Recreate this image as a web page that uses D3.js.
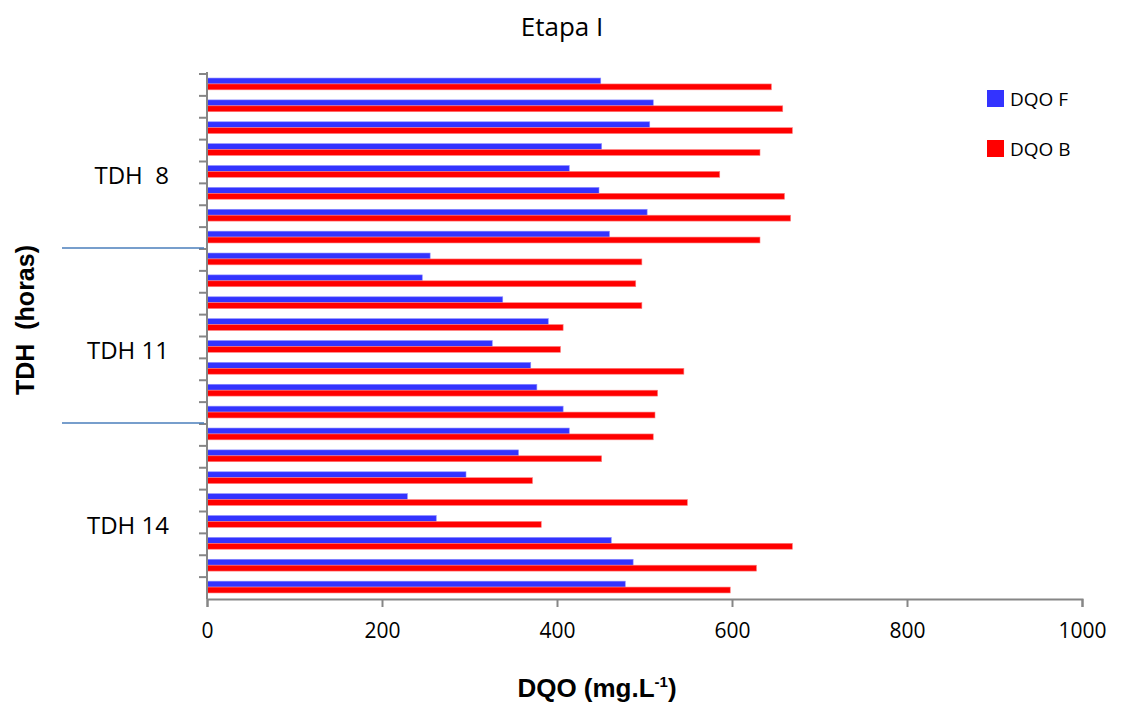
<!DOCTYPE html>
<html>
<head>
<meta charset="utf-8">
<script src="https://cdn.jsdelivr.net/npm/d3@7"></script>
<style>
  body { margin: 0; background: #fff; }
  text { font-family: "Open Sans", sans-serif; white-space: pre; }
</style>
</head>
<body>
<script>
// Etapa I - DQO por TDH
var w = 1122;
var h = 706;

// categories, top to bottom (8 samples per TDH)
var categorias = ["8-1", "8-2", "8-3", "8-4", "8-5", "8-6", "8-7", "8-8",
  "11-1", "11-2", "11-3", "11-4", "11-5", "11-6", "11-7", "11-8",
  "14-1", "14-2", "14-3", "14-4", "14-5", "14-6", "14-7", "14-8"];

var grupos = ["TDH  8", "TDH 11", "TDH 14"];

var series = ["DQO F", "DQO B"];

var dqoF = [450, 510, 506, 451, 414, 448, 503, 460,
  255, 246, 338, 390, 326, 370, 377, 407,
  414, 356, 296, 229, 262, 462, 487, 478];

var dqoB = [645, 658, 669, 632, 586, 660, 667, 632,
  497, 490, 497, 407, 404, 545, 515, 512,
  510, 451, 372, 549, 382, 669, 628, 598];

var xTicks = [0, 200, 400, 600, 800, 1000];

var cores = ["#3333ff", "#ff0000"];

var margin = {top: 74, right: 40, bottom: 107, left: 207};

var svg = d3.select("body")
  .append("svg")
  .attr("width", w)
  .attr("height", h);

var x = d3.scaleLinear()
  .domain([0, 1000])
  .range([margin.left, 1082]);

var y = d3.scaleBand()
  .domain(categorias)
  .range([margin.top, h - margin.bottom])
  .paddingInner(0.46)
  .paddingOuter(0.23);

var ySub = d3.scaleBand()
  .domain(series)
  .range([0, y.bandwidth()]);

var dados = categorias.map(function(c, i) {
  return {cat: c, valores: [dqoF[i], dqoB[i]]};
});

// title
svg.append("text")
  .attr("x", 562)
  .attr("y", 36)
  .attr("text-anchor", "middle")
  .style("font-size", "26px")
  .text("Etapa I");

// bars
var linhas = svg.selectAll("g.cat")
  .data(dados)
  .enter()
  .append("g")
  .attr("class", "cat")
  .attr("transform", function(d) { return "translate(0," + (y(d.cat) - 1) + ")"; });

linhas.selectAll("rect")
  .data(function(d) {
    return d.valores.map(function(v, j) { return {serie: series[j], valor: v, j: j}; });
  })
  .enter()
  .append("rect")
  .attr("x", x(0))
  .attr("y", function(d) { return ySub(d.serie); })
  .attr("width", function(d) { return x(d.valor) - x(0); })
  .attr("height", ySub.bandwidth())
  .attr("fill", function(d) { return cores[d.j]; })
  .attr("stroke", function(d) { return d.j == 0 ? "#8c8cff" : "#ff8080"; })
  .attr("stroke-width", 0.6);

// x axis
var xAxis = d3.axisBottom(x)
  .tickValues(xTicks)
  .tickSize(8)
  .tickPadding(16)
  .tickFormat(d3.format("d"));

var gx = svg.append("g")
  .attr("transform", "translate(0," + (h - margin.bottom) + ")")
  .call(xAxis);
gx.select(".domain").attr("stroke", "#868686").attr("stroke-width", 2);
gx.selectAll(".tick line").attr("stroke", "#868686").attr("stroke-width", 2);
gx.selectAll(".tick text")
  .style("font-family", "Open Sans, sans-serif")
  .style("font-size", "21px")
  .attr("fill", "#000");

// y axis: line and ticks at category boundaries
var step = y.step();
var y0 = y.range()[0];
var limites = d3.range(categorias.length + 1).map(function(i) { return y0 + i * step; });

svg.append("line")
  .attr("x1", x(0)).attr("x2", x(0))
  .attr("y1", y0 - 2).attr("y2", h - margin.bottom)
  .attr("stroke", "#868686")
  .attr("stroke-width", 2);

svg.selectAll("line.ytick")
  .data(limites.slice(0, categorias.length))
  .enter()
  .append("line")
  .attr("class", "ytick")
  .attr("x1", x(0) - 8).attr("x2", x(0))
  .attr("y1", function(d) { return d; })
  .attr("y2", function(d) { return d; })
  .attr("stroke", "#868686")
  .attr("stroke-width", 2);

// group separators
var porGrupo = categorias.length / grupos.length;
svg.selectAll("line.sep")
  .data([1, 2])
  .enter()
  .append("line")
  .attr("class", "sep")
  .attr("x1", 62).attr("x2", x(0) - 3)
  .attr("y1", function(k) { return limites[k * porGrupo] - 1; })
  .attr("y2", function(k) { return limites[k * porGrupo] - 1; })
  .attr("stroke", "#4a7ebb")
  .attr("stroke-width", 1.5);

// group labels
svg.selectAll("text.grupo")
  .data(grupos)
  .enter()
  .append("text")
  .attr("class", "grupo")
  .attr("x", 169)
  .attr("y", function(g, k) { return limites[k * porGrupo + porGrupo / 2] + 22; })
  .attr("text-anchor", "end")
  .style("font-size", "24px")
  .text(function(g) { return g; });

// axis titles
svg.append("text")
  .attr("transform", "translate(34,320) rotate(-90)")
  .attr("text-anchor", "middle")
  .style("font-family", "Liberation Sans, Arial, sans-serif")
  .style("font-weight", "bold")
  .style("font-size", "25px")
  .text("TDH  (horas)");

var tx = svg.append("text")
  .attr("x", 597)
  .attr("y", 697)
  .attr("text-anchor", "middle")
  .style("font-family", "Liberation Sans, Arial, sans-serif")
  .style("font-weight", "bold")
  .style("font-size", "26px");
tx.append("tspan").text("DQO (mg.L");
tx.append("tspan").attr("dy", -10).style("font-size", "15px").text("-1");
tx.append("tspan").attr("dy", 10).text(")");

// legend
var leg = svg.selectAll("g.leg")
  .data(series)
  .enter()
  .append("g")
  .attr("class", "leg")
  .attr("transform", function(d, i) { return "translate(987," + (90 + i * 50) + ")"; });

leg.append("rect")
  .attr("width", 17)
  .attr("height", 17)
  .attr("fill", function(d, i) { return cores[i]; });

leg.append("text")
  .attr("x", 23)
  .attr("y", 16)
  .style("font-size", "19px")
  .text(function(d) { return d; });
</script>
</body>
</html>
